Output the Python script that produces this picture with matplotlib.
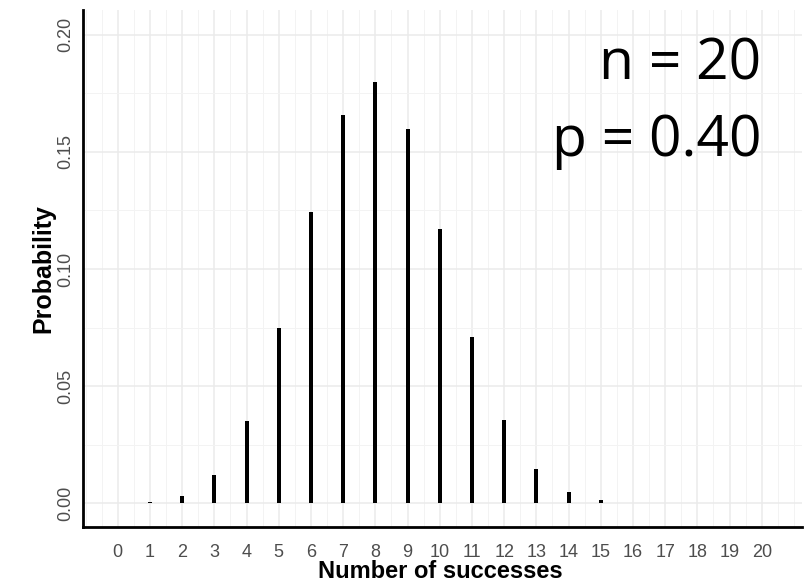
import matplotlib.pyplot as plt
from matplotlib.ticker import MultipleLocator

# binomial probabilities (n = 20, p = 0.40)
successes = list(range(21))
probability = [0.00004, 0.0005, 0.0031, 0.0123, 0.0350, 0.0746, 0.1244,
               0.1659, 0.1797, 0.1597, 0.1171, 0.0710, 0.0355, 0.0146,
               0.0049, 0.0013, 0.0003, 0.00004, 0.0, 0.0, 0.0]
tick_labels = [str(k) for k in successes]
y_ticks = [0.0, 0.05, 0.10, 0.15, 0.20]
y_tick_labels = ["0.00", "0.05", "0.10", "0.15", "0.20"]

W, H = 805, 582
fig = plt.figure(figsize=(W / 100, H / 100), dpi=100)
# axes box in pixels: left 83, right 802, top 10, bottom 527
ax = fig.add_axes([83 / W, 1 - 527 / H, (802 - 83) / W, (527 - 10) / H])

ax.bar(successes, probability, width=0.125, color="black", zorder=3)

ax.set_xlim(-1.08, 21.25)
ax.set_ylim(-0.0101, 0.2105)
ax.set_xticks(successes)
ax.set_xticklabels(tick_labels)
ax.set_yticks(y_ticks)
ax.set_yticklabels(y_tick_labels, rotation=90, va="center")
ax.xaxis.set_minor_locator(MultipleLocator(0.5))
ax.yaxis.set_minor_locator(MultipleLocator(0.025))

ax.grid(True, which="major", color="#ebebeb", linewidth=1.1, zorder=0)
ax.grid(True, which="minor", color="#f3f3f3", linewidth=0.7, zorder=0)
ax.set_axisbelow(True)

for side in ["top", "right"]:
    ax.spines[side].set_visible(False)
for side in ["left", "bottom"]:
    ax.spines[side].set_linewidth(2.0)
    ax.spines[side].set_color("black")

ax.tick_params(which="both", length=0, colors="#4d4d4d", labelsize=13,
               labelfontfamily="Liberation Sans")
ax.tick_params(axis="x", pad=12)
ax.tick_params(axis="y", pad=6)

ax.set_xlabel("Number of successes", fontsize=17, fontweight="bold",
              family="Liberation Sans", va="baseline")
ax.xaxis.set_label_coords(0.4965, -0.099)
ax.set_ylabel("Probability", fontsize=18, fontweight="bold",
              family="Liberation Sans", labelpad=2)

fig.text(761 / W, 1 - 79 / H, "n = 20", fontsize=41, family="Open Sans",
         ha="right", va="baseline")
fig.text(761 / W, 1 - 156 / H, "p = 0.40", fontsize=41, family="Open Sans",
         ha="right", va="baseline")

fig.savefig("out.png", dpi=100)
